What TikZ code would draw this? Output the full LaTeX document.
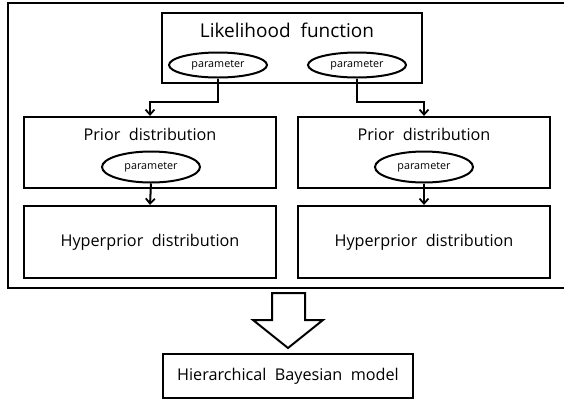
\documentclass[tikz,border=0pt]{standalone}
\usepackage{fontspec}
\setmainfont{Open Sans}[WordSpace=2]
\usetikzlibrary{arrows.meta,shapes.geometric}
\begin{document}
\begin{tikzpicture}[x=1pt,y=-1pt,
  box/.style={draw,line width=2.2pt,minimum width=#1,inner sep=0pt},
  ell/.style={draw,ellipse,line width=2pt,inner sep=0pt,minimum width=98pt,minimum height=#1,font=\fontsize{10.8}{12}\selectfont},
  big/.style={font=\fontsize{16.2}{19}\selectfont,inner sep=0pt},
  arr/.style={line width=2pt,-{Straight Barb[length=5pt,width=9pt,line width=1.8pt]}}]
\useasboundingbox (0,0) rectangle (564,400);
\fill[white] (0,0) rectangle (564,400);
% outer frame
\draw[line width=2.6pt] (570,3) -- (8,3) -- (8,288) -- (570,288);
% likelihood
\node[box=260pt,minimum height=70pt] (like) at (292,48) {};
\node[font=\fontsize{19}{22}\selectfont,inner sep=0pt] (liket) at (287,30) {Likelihood function};
\node[ell=25pt] (le) at (218,65) {parameter};
\node[ell=25pt] (re) at (357,65) {parameter};
% prior boxes
\node[box=252pt,minimum height=71pt] (p1) at (150,152.5) {};
\node[box=252pt,minimum height=71pt] (p2) at (424,152.5) {};
\node[big] (p1t) at (150,134) {Prior distribution};
\node[big] (p2t) at (424,134) {Prior distribution};
\node[ell=31pt] (pe1) at (151,167) {parameter};
\node[ell=31pt] (pe2) at (424,167) {parameter};
% hyperprior boxes
\node[box=252pt,minimum height=72pt,big] (h1) at (150,242) {Hyperprior distribution};
\node[box=252pt,minimum height=72pt,big] (h2) at (424,242) {Hyperprior distribution};
% connectors
\draw[arr] (le.south) -- ++(0,23) -| (p1.north);
\draw[arr] (re.south) -- ++(0,23) -| (p2.north);
\draw[arr] (pe1.south) -- (h1.north);
\draw[arr] (pe2.south) -- (h2.north);
% bottom box
\node[box=250pt,minimum height=44pt,big] (hbm) at (288,376) {Hierarchical Bayesian model};
% hollow arrow
\draw[line width=2pt,line join=miter] (272,293) -- (305,293) -- (305,320) -- (323,320) -- (288,348) -- (253,320) -- (272,320) -- cycle;
\end{tikzpicture}
\end{document}
